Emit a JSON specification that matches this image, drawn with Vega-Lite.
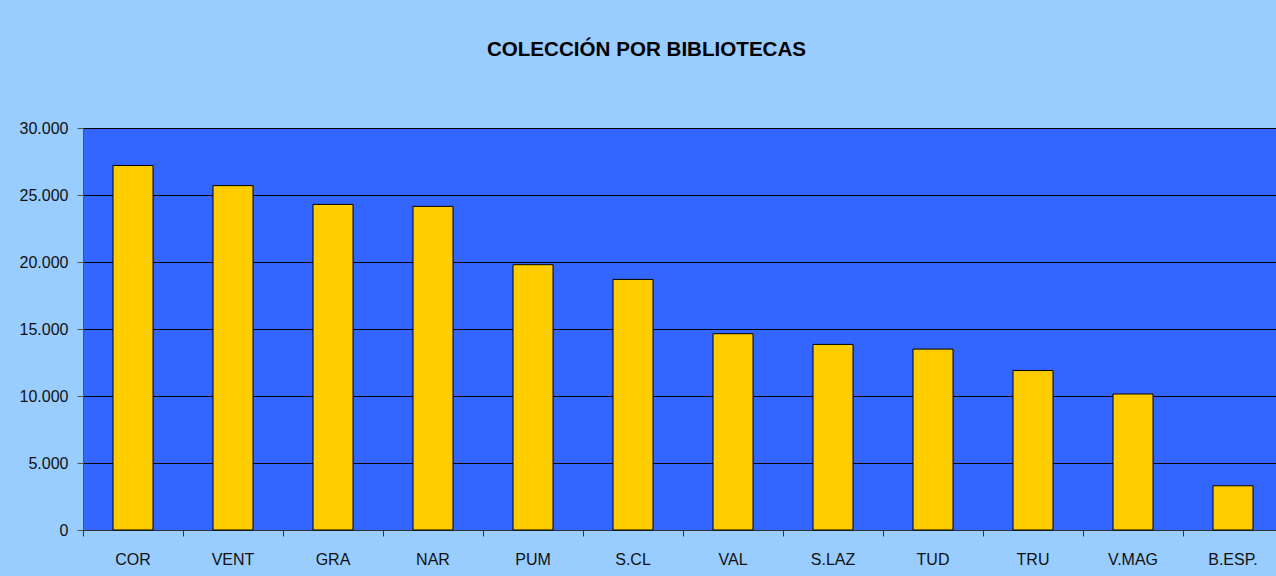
{
  "$schema": "https://vega.github.io/schema/vega-lite/v6.json",
  "width": 1193,
  "height": 402,
  "autosize": {"type": "none"},
  "padding": {"left": 83, "top": 128, "right": 0, "bottom": 46},
  "background": "#99CCFF",
  "title": {
    "text": "COLECCIÓN POR BIBLIOTECAS",
    "font": "Liberation Sans",
    "fontSize": 20.6,
    "fontWeight": "bold",
    "color": "#000000",
    "anchor": "middle",
    "dx": -33,
    "baseline": "alphabetic",
    "offset": 43
  },
  "data": {
    "values": [
      {"biblioteca": "COR", "coleccion": 27200},
      {"biblioteca": "VENT", "coleccion": 25700},
      {"biblioteca": "GRA", "coleccion": 24300},
      {"biblioteca": "NAR", "coleccion": 24150},
      {"biblioteca": "PUM", "coleccion": 19800},
      {"biblioteca": "S.CL", "coleccion": 18700},
      {"biblioteca": "VAL", "coleccion": 14650},
      {"biblioteca": "S.LAZ", "coleccion": 13850},
      {"biblioteca": "TUD", "coleccion": 13500},
      {"biblioteca": "TRU", "coleccion": 11900},
      {"biblioteca": "V.MAG", "coleccion": 10150},
      {"biblioteca": "B.ESP.", "coleccion": 3300}
    ]
  },
  "mark": {"type": "bar", "color": "#FFCC00", "stroke": "#000000", "strokeWidth": 1},
  "encoding": {
    "x": {
      "field": "biblioteca",
      "type": "nominal",
      "sort": null,
      "scale": {"range": [0, 1200], "paddingInner": 0.6, "paddingOuter": 0.3},
      "axis": {
        "title": null,
        "labelAngle": 0,
        "bandPosition": -0.75,
        "tickSize": 6,
        "tickColor": "#333333",
        "domainColor": "#333333",
        "labelPadding": 15,
        "labelFont": "Liberation Sans",
        "labelFontSize": 16,
        "labelColor": "#111111",
        "grid": false
      }
    },
    "y": {
      "field": "coleccion",
      "type": "quantitative",
      "scale": {"domain": [0, 30000], "nice": false},
      "axis": {
        "title": null,
        "values": [0, 5000, 10000, 15000, 20000, 25000, 30000],
        "labelExpr": "replace(format(datum.value, ','), ',', '.')",
        "grid": true,
        "gridColor": "#000000",
        "gridWidth": 1,
        "gridOpacity": 1,
        "tickSize": 6,
        "tickColor": "#555555",
        "domainColor": "#555555",
        "labelPadding": 9,
        "labelFont": "Liberation Sans",
        "labelFontSize": 16,
        "labelColor": "#111111"
      }
    }
  },
  "config": {
    "view": {"fill": "#3366FF", "stroke": "#808080", "strokeWidth": 1}
  }
}
